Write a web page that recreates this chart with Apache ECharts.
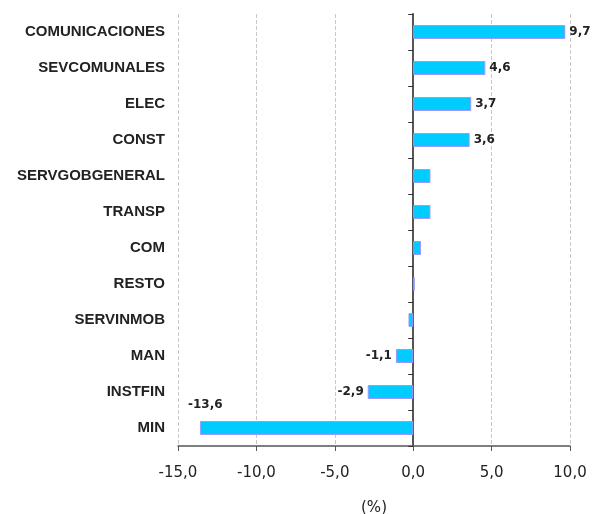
<!DOCTYPE html>
<html>
<head>
<meta charset="utf-8">
<script src="https://cdn.jsdelivr.net/npm/echarts@6/dist/echarts.min.js"></script>
<style>
  html, body { margin: 0; padding: 0; background: #fff; }
  #chart { width: 602px; height: 514px; }
</style>
</head>
<body>
<div id="chart"></div>
<script>
// sectores, de abajo hacia arriba
var categories = ["MIN", "INSTFIN", "MAN", "SERVINMOB", "RESTO", "COM", "TRANSP",
  "SERVGOBGENERAL", "CONST", "ELEC", "SEVCOMUNALES", "COMUNICACIONES"];
// variacion (%)
var values = [-13.6, -2.9, -1.1, -0.3, 0.1, 0.5, 1.1, 1.1, 3.6, 3.7, 4.6, 9.7];
// solo algunas barras llevan etiqueta
var showLabel = [true, true, true, false, false, false, false, false, true, true, true, true];

var chart = echarts.init(document.getElementById("chart"));

function fmt(v) {
  return v.toFixed(1).replace(".", ",");
}

var data = values.map(function (v, i) {
  var item = { value: v };
  if (showLabel[i]) {
    item.label = { show: true, position: v < 0 ? "left" : "right" };
    // la de MIN va encima de la barra
    if (i === 0) item.label = { show: true, position: "insideTopLeft", offset: [-16, -26] };
  }
  return item;
});

chart.setOption({
  animation: false,
  grid: { left: 178, right: 32, top: 14, bottom: 68, outerBoundsMode: "none" },
  xAxis: {
    type: "value",
    min: -15,
    max: 10,
    interval: 5,
    name: "(%)",
    nameLocation: "middle",
    nameGap: 55,
    nameTextStyle: { fontFamily: "DejaVu Sans", fontSize: 15, color: "#222" },
    axisLine: { show: true, lineStyle: { color: "#555", width: 1.5 } },
    axisTick: { show: true, length: 5, lineStyle: { color: "#555" } },
    axisLabel: {
      fontFamily: "DejaVu Sans", fontSize: 15, color: "#222", margin: 20,
      formatter: fmt
    },
    splitLine: { show: true, lineStyle: { color: "#c8c8c8", type: "dashed" } }
  },
  yAxis: [
    {
      type: "category",
      data: categories,
      axisLine: { show: false, onZero: false },
      axisTick: { show: false },
      axisLabel: {
        fontFamily: "Liberation Sans", fontWeight: "bold", fontSize: 15,
        color: "#222", margin: 13
      }
    },
    {
      type: "category",
      data: categories,
      position: "left",
      axisLine: { show: true, onZero: true, onZeroAxisIndex: 0, lineStyle: { color: "#555", width: 2 } },
      axisTick: { show: true, length: 5, inside: false, lineStyle: { color: "#333" } },
      axisLabel: { show: false },
      splitLine: { show: false }
    }
  ],
  series: [
    {
      type: "bar",
      yAxisIndex: 0,
      data: data,
      barWidth: 14,
      itemStyle: { color: "#00ccff", borderColor: "#9999ff", borderWidth: 1 },
      label: {
        show: false,
        fontFamily: "DejaVu Sans", fontWeight: "bold", fontSize: 12, color: "#222",
        distance: 4,
        formatter: function (p) { return fmt(p.value); }
      }
    }
  ]
});
</script>
</body>
</html>
